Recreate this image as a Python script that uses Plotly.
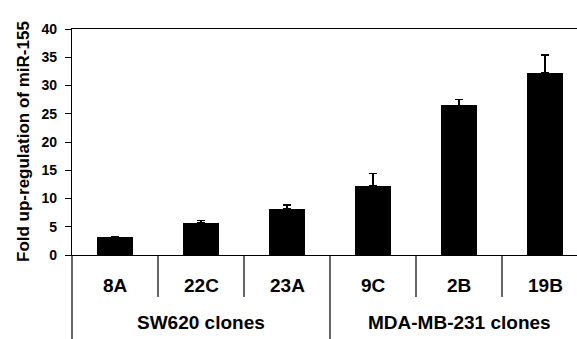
import plotly.graph_objects as go

# ---- data ----
clones = ["8A", "22C", "23A", "9C", "2B", "19B"]
fold_change = [3.1, 5.7, 8.2, 12.2, 26.5, 32.2]
error_up = [0.15, 0.4, 0.65, 2.2, 1.0, 3.2]
groups = ["SW620 clones", "MDA-MB-231 clones"]
group_sizes = [3, 3]
y_ticks = [0, 5, 10, 15, 20, 25, 30, 35, 40]

FONT = "Arial, 'Liberation Sans', Helvetica, sans-serif"

W, H = 577, 339
ml, mr, mt, mb = 72, 0, 29, 84
cat_px = 86.0
plot_w = W - ml - mr
plot_h = H - mt - mb
x0 = -0.5
x1 = x0 + plot_w / cat_px
xr = [x0, x1]

def xpaper(v):
    return (v - x0) / (x1 - x0)

fig = go.Figure()
idx = list(range(len(clones)))
fig.add_trace(go.Bar(
    x=idx, y=fold_change, width=0.42,
    marker=dict(color="black", line=dict(color="black", width=0)),
    error_y=dict(type="data", array=error_up, arrayminus=[0] * len(clones),
                 symmetric=False, color="black", thickness=1.5, width=4),
    showlegend=False,
))

shapes = []
annotations = []
tick_drop = 42 / plot_h
bounds = []
acc = 0
for s in group_sizes:
    acc += s
    bounds.append(acc)
for i in range(1, len(clones)):
    is_group = i in bounds
    shapes.append(dict(type="line", xref="paper", yref="paper",
                       x0=xpaper(i - 0.5), x1=xpaper(i - 0.5),
                       y0=0, y1=(-mb / plot_h) if is_group else -tick_drop,
                       line=dict(color="black", width=1.2)))
shapes.append(dict(type="line", xref="paper", yref="paper",
                   x0=0, x1=0, y0=0, y1=-mb / plot_h,
                   line=dict(color="black", width=1.2)))

bold = dict(family=FONT, color="black", weight="bold")
for i, c in enumerate(clones):
    annotations.append(dict(x=i, y=0, xref="x", yref="paper", text=c,
                            showarrow=False, yshift=-30, yanchor="middle",
                            font=dict(size=19, **bold)))
start = 0
for g, s in zip(groups, group_sizes):
    center = start + (s - 1) / 2
    annotations.append(dict(x=center, y=0, xref="x", yref="paper", text=g,
                            showarrow=False, yshift=-67, yanchor="middle",
                            font=dict(size=19, **bold)))
    start += s

annotations.append(dict(x=0, y=0.5, xref="paper", yref="paper",
                        text="Fold up-regulation of miR-155",
                        textangle=-90, showarrow=False, xshift=-49,
                        xanchor="center", yanchor="middle",
                        font=dict(size=17, **bold)))

fig.update_layout(
    width=W, height=H,
    margin=dict(l=ml, r=mr, t=mt, b=mb, pad=0),
    paper_bgcolor="white", plot_bgcolor="white",
    bargap=0,
    xaxis=dict(range=xr, showticklabels=False, ticks="", showgrid=False,
               zeroline=False, showline=True, linecolor="black", linewidth=1.3,
               mirror=True, fixedrange=True),
    yaxis=dict(range=[0, 40], tickvals=y_ticks,
               ticktext=["<b>%d</b>" % v for v in y_ticks],
               ticks="outside", ticklen=6, tickwidth=1, tickcolor="black",
               ticklabelstandoff=5,
               showgrid=False, zeroline=False, showline=True,
               linecolor="black", linewidth=1.3,
               tickfont=dict(size=14, **bold),
               fixedrange=True),
    shapes=shapes,
    annotations=annotations,
)

fig.write_html("out.html", config={"displayModeBar": False},
               post_script="document.body.style.margin='0';document.body.style.overflow='hidden';")
